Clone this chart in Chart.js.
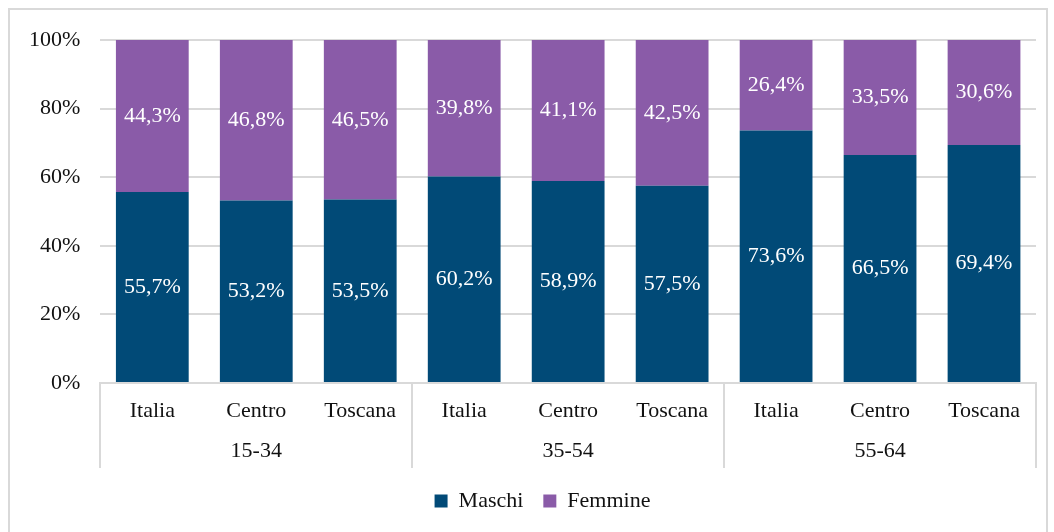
<!DOCTYPE html>
<html>
<head>
<meta charset="utf-8">
<script src="https://cdn.jsdelivr.net/npm/chart.js@4.4.1/dist/chart.umd.min.js"></script>
<style>
html,body{margin:0;padding:0;background:#fff;}
#wrap{width:1054px;height:532px;position:relative;}
</style>
</head>
<body>
<div id="wrap"><canvas id="c"></canvas></div>
<script>
const groups = ['15-34', '35-54', '55-64'];
const regions = ['Italia', 'Centro', 'Toscana'];
const maschi = [55.7, 53.2, 53.5, 60.2, 58.9, 57.5, 73.6, 66.5, 69.4];
const femmine = [44.3, 46.8, 46.5, 39.8, 41.1, 42.5, 26.4, 33.5, 30.6];
const yTicks = [0, 20, 40, 60, 80, 100];

const categories = groups.flatMap(() => regions);
const groupRow = groups.flatMap(g => regions.map((r, i) => i === 1 ? g : ''));

const GRID = '#d9d9d9';
const FONT = "'Liberation Serif', 'Times New Roman', serif";
Chart.defaults.font.family = FONT;
Chart.defaults.font.size = 22;
Chart.defaults.color = '#111111';

const fmt = v => v.toFixed(1).replace('.', ',') + '%';

const frame = {
  id: 'frame',
  afterLayout(chart) {
    const lg = chart.legend;
    if (lg) { lg.left += 20; lg.right += 20; }
  },
  beforeDraw(chart) {
    const c = chart.ctx;
    c.save();
    c.strokeStyle = GRID;
    c.lineWidth = 2;
    c.strokeRect(9, 9, 1038, 540);
    c.restore();
  },
  afterDraw(chart) {
    const c = chart.ctx, xs = chart.scales.x, x2 = chart.scales.x2;
    const n = categories.length, step = xs.width / n;
    c.save();
    c.strokeStyle = GRID;
    c.lineWidth = 2;
    for (let i = 0; i <= n; i += regions.length) {
      const x = Math.round(xs.left + i * step);
      c.beginPath();
      c.moveTo(x, chart.chartArea.bottom);
      c.lineTo(x, x2.bottom - 2);
      c.stroke();
    }
    c.restore();
  }
};

const labels = {
  id: 'valueLabels',
  afterDatasetsDraw(chart) {
    const c = chart.ctx;
    c.save();
    c.fillStyle = '#ffffff';
    c.font = '22px ' + FONT;
    c.textAlign = 'center';
    c.textBaseline = 'middle';
    chart.data.datasets.forEach((ds, di) => {
      const meta = chart.getDatasetMeta(di);
      meta.data.forEach((bar, i) => {
        const y = (bar.y + bar.base) / 2;
        c.fillText(fmt(ds.data[i]), bar.x, y);
      });
    });
    c.restore();
  }
};

new Chart(document.getElementById('c'), {
  type: 'bar',
  data: {
    labels: categories,
    datasets: [
      { label: 'Maschi', data: maschi, backgroundColor: '#014a77', categoryPercentage: 0.7, barPercentage: 1 },
      { label: 'Femmine', data: femmine, backgroundColor: '#8a5ba8', categoryPercentage: 0.7, barPercentage: 1 }
    ]
  },
  options: {
    responsive: true,
    maintainAspectRatio: false,
    animation: false,
    layout: { padding: { left: 9, right: 18, top: 40, bottom: 10 } },
    plugins: {
      legend: {
        position: 'bottom',
        labels: { boxWidth: 13, boxHeight: 13, padding: 20, color: '#111111' }
      },
      tooltip: { enabled: false }
    },
    scales: {
      x: {
        stacked: true,
        grid: { display: false, drawTicks: false },
        border: { display: true, color: GRID, width: 2 },
        ticks: { padding: 15, autoSkip: false, maxRotation: 0 },
        afterFit: s => { s.height = 41; }
      },
      x2: {
        type: 'category',
        labels: groupRow,
        position: 'bottom',
        offset: true,
        grid: { display: false, drawTicks: false },
        border: { display: false },
        ticks: { padding: 14, autoSkip: false, maxRotation: 0 },
        afterFit: s => { s.height = 46; }
      },
      y: {
        stacked: true,
        min: 0,
        max: 100,
        afterBuildTicks: s => { s.ticks = yTicks.map(v => ({ value: v })); },
        grid: { color: GRID, lineWidth: 2, drawTicks: false },
        border: { display: false },
        ticks: { padding: 20, callback: v => v + '%' }
      }
    }
  },
  plugins: [frame, labels]
});
</script>
</body>
</html>
